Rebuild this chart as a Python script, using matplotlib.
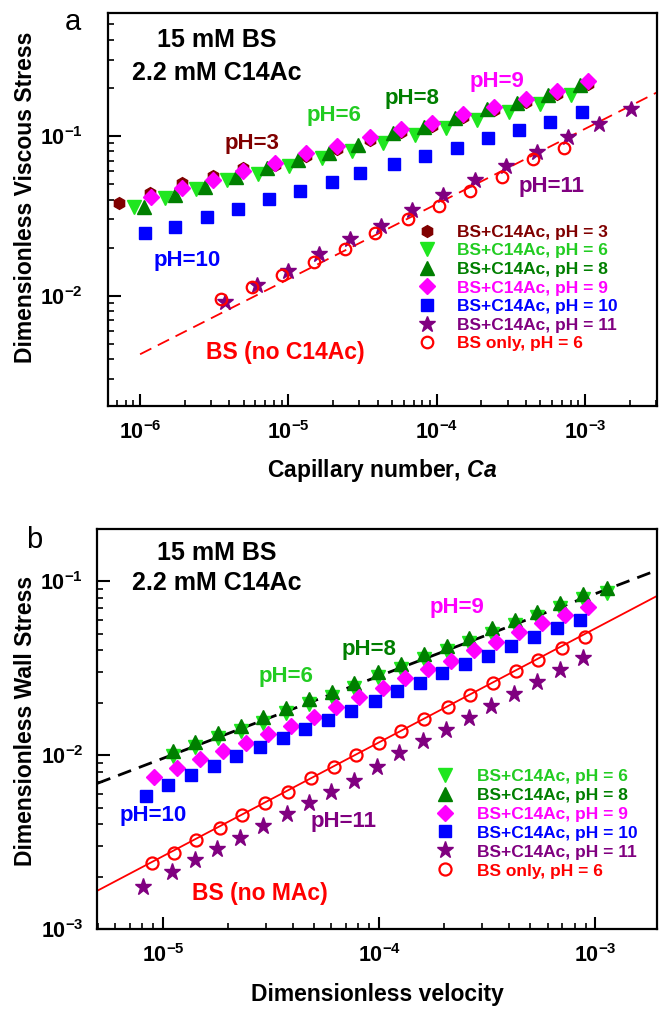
import numpy as np
import matplotlib
matplotlib.use("Agg")
import matplotlib.pyplot as plt
from matplotlib.ticker import LogLocator, FuncFormatter, NullFormatter

plt.rcParams['font.family'] = ['Liberation Sans', 'DejaVu Sans']
plt.rcParams['font.weight'] = 'bold'
plt.rcParams['mathtext.fontset'] = 'custom'
plt.rcParams['mathtext.rm'] = 'Liberation Sans:bold'
plt.rcParams['mathtext.bf'] = 'Liberation Sans:bold'
plt.rcParams['mathtext.it'] = 'Liberation Sans:bold:italic'

# ---------------- Panel a data (Capillary number vs viscous stress) -------------
a_ph3_x = [7.25e-7, 1.17e-6, 1.91e-6, 3.09e-6, 4.97e-6, 8.12e-6, 1.314e-5, 2.135e-5,
           3.55e-5, 5.71e-5, 9.24e-5, 1.509e-4, 2.44e-4, 3.97e-4, 6.49e-4, 1.05e-3]
a_ph3_y = [0.0382, 0.0441, 0.0506, 0.0564, 0.0633, 0.0660, 0.0750, 0.0830,
           0.0950, 0.106, 0.116, 0.131, 0.146, 0.162, 0.184, 0.212]

a_ph6_x = [9.11e-7, 1.47e-6, 2.38e-6, 3.84e-6, 6.27e-6, 1.014e-5, 1.676e-5, 2.70e-5,
           4.36e-5, 7.13e-5, 1.153e-4, 1.875e-4, 3.07e-4, 4.96e-4, 8.02e-4]
a_ph6_y = [0.0358, 0.0407, 0.0464, 0.0530, 0.0578, 0.0649, 0.0725, 0.0809,
           0.0900, 0.1014, 0.1117, 0.126, 0.1407, 0.158, 0.1806]

a_ph8_x = [1.06e-6, 1.72e-6, 2.74e-6, 4.44e-6, 7.21e-6, 1.166e-5, 1.886e-5, 2.96e-5,
           5.09e-5, 8.20e-5, 1.327e-4, 2.17e-4, 3.45e-4, 5.64e-4, 9.23e-4]
a_ph8_y = [0.0361, 0.0427, 0.0481, 0.0551, 0.0628, 0.0707, 0.0786, 0.0878,
           0.1040, 0.1143, 0.129, 0.147, 0.1603, 0.1806, 0.2086]

a_ph9_x = [1.18e-6, 1.91e-6, 3.09e-6, 4.97e-6, 8.12e-6, 1.314e-5, 2.135e-5, 3.55e-5,
           5.71e-5, 9.24e-5, 1.509e-4, 2.44e-4, 3.97e-4, 6.49e-4, 1.05e-3]
a_ph9_y = [0.0417, 0.0470, 0.0530, 0.0606, 0.0681, 0.0779, 0.0866, 0.0990,
           0.110, 0.1211, 0.1367, 0.1526, 0.1697, 0.192, 0.222]

a_ph10_x = [1.08e-6, 1.72e-6, 2.82e-6, 4.60e-6, 7.43e-6, 1.197e-5, 1.958e-5, 3.04e-5,
            5.17e-5, 8.33e-5, 1.36e-4, 2.22e-4, 3.60e-4, 5.79e-4, 9.47e-4]
a_ph10_y = [0.0246, 0.0270, 0.0310, 0.0349, 0.0402, 0.0452, 0.0517, 0.0584,
            0.0665, 0.0750, 0.0845, 0.0967, 0.109, 0.1229, 0.142]

a_ph11_x = [3.74e-6, 6.11e-6, 9.98e-6, 1.616e-5, 2.60e-5, 4.19e-5, 6.78e-5, 1.106e-4,
            1.81e-4, 2.91e-4, 4.71e-4, 7.69e-4, 1.245e-3, 2.03e-3]
a_ph11_y = [0.00917, 0.01167, 0.01434, 0.01825, 0.02255, 0.0273, 0.0344, 0.0427,
            0.0530, 0.0652, 0.0798, 0.0990, 0.1189, 0.147]

a_bs_x = [3.50e-6, 5.66e-6, 9.10e-6, 1.488e-5, 2.41e-5, 3.83e-5, 6.43e-5, 1.035e-4,
          1.674e-4, 2.74e-4, 4.43e-4, 7.19e-4]
a_bs_y = [0.00953, 0.01129, 0.01349, 0.01619, 0.0196, 0.0246, 0.0302, 0.0366,
          0.0452, 0.0556, 0.0715, 0.0845]

a_fit_x = [1.0e-6, 3.04e-3]
a_fit_y = [0.0043, 0.187]

# ---------------- Panel b data (dimensionless velocity vs wall stress) ----------
b_ph8_x = [1.106e-5, 1.406e-5, 1.787e-5, 2.28e-5, 2.90e-5, 3.70e-5, 4.70e-5, 6.05e-5,
           7.66e-5, 9.84e-5, 1.264e-4, 1.608e-4, 2.05e-4, 2.61e-4, 3.33e-4, 4.23e-4,
           5.38e-4, 6.87e-4, 8.75e-4, 1.133e-3]
b_ph8_y = [0.01061, 0.01195, 0.01335, 0.01476, 0.0165, 0.01858, 0.0209, 0.0231,
           0.0261, 0.0299, 0.0334, 0.0379, 0.0425, 0.0473, 0.0535, 0.0597,
           0.0666, 0.0745, 0.0839, 0.0908]

b_ph6_x = [1.106e-5, 1.406e-5, 1.787e-5, 2.28e-5, 2.90e-5, 3.70e-5, 4.70e-5, 6.05e-5,
           7.66e-5, 9.84e-5, 1.264e-4, 1.608e-4, 2.05e-4, 2.61e-4, 3.33e-4, 4.23e-4,
           5.38e-4, 6.87e-4, 8.75e-4, 1.133e-3]
b_ph6_y = [0.0099, 0.0112, 0.0125, 0.0138, 0.0154, 0.0174, 0.0196, 0.0216,
           0.0244, 0.0280, 0.0313, 0.0355, 0.0398, 0.0443, 0.0500, 0.0558,
           0.0623, 0.0697, 0.0785, 0.0850]

b_ph9_x = [9.08e-6, 1.155e-5, 1.473e-5, 1.886e-5, 2.41e-5, 3.06e-5, 3.90e-5, 4.96e-5,
           6.33e-5, 8.08e-5, 1.035e-4, 1.319e-4, 1.684e-4, 2.14e-4, 2.73e-4, 3.47e-4,
           4.43e-4, 5.63e-4, 7.19e-4, 9.21e-4]
b_ph9_y = [0.00746, 0.00841, 0.00950, 0.01061, 0.01179, 0.01323, 0.01471, 0.01663,
           0.01883, 0.0215, 0.0242, 0.0276, 0.0311, 0.0349, 0.0402, 0.0448,
           0.0508, 0.0572, 0.0638, 0.0706]

b_ph10_x = [8.30e-6, 1.055e-5, 1.347e-5, 1.712e-5, 2.18e-5, 2.80e-5, 3.57e-5, 4.55e-5,
            5.79e-5, 7.39e-5, 9.50e-5, 1.207e-4, 1.541e-4, 1.958e-4, 2.50e-4, 3.18e-4,
            4.05e-4, 5.19e-4, 6.62e-4, 8.45e-4]
b_ph10_y = [0.00583, 0.00674, 0.00769, 0.00870, 0.00989, 0.0111, 0.0125, 0.01408,
            0.01592, 0.01793, 0.0205, 0.0234, 0.0261, 0.0295, 0.0332, 0.0371,
            0.0424, 0.0475, 0.0535, 0.0597]

b_ph11_x = [8.06e-6, 1.094e-5, 1.406e-5, 1.776e-5, 2.26e-5, 2.88e-5, 3.73e-5, 4.70e-5,
            6.00e-5, 7.66e-5, 9.73e-5, 1.237e-4, 1.591e-4, 2.03e-4, 2.59e-4, 3.29e-4,
            4.19e-4, 5.34e-4, 6.87e-4, 8.75e-4]
b_ph11_y = [0.001757, 0.00214, 0.00250, 0.00288, 0.00333, 0.00392, 0.00457, 0.00529,
            0.00617, 0.00711, 0.00859, 0.01025, 0.01211, 0.01394, 0.01641, 0.01923,
            0.0224, 0.0264, 0.0308, 0.0363]

b_bs_x = [8.83e-6, 1.122e-5, 1.417e-5, 1.825e-5, 2.32e-5, 2.95e-5, 3.77e-5, 4.80e-5,
          6.18e-5, 7.79e-5, 9.91e-5, 1.264e-4, 1.608e-4, 2.07e-4, 2.63e-4, 3.35e-4,
          4.28e-4, 5.44e-4, 6.98e-4, 8.98e-4]
b_bs_y = [0.00239, 0.00275, 0.00326, 0.00384, 0.00453, 0.00529, 0.00617, 0.00736,
          0.00859, 0.01002, 0.01179, 0.01376, 0.01607, 0.01883, 0.02215, 0.0261,
          0.0304, 0.0352, 0.0414, 0.0479]

b_fit_black_x = [4.95e-6, 1.93e-3]
b_fit_black_y = [0.00689, 0.1156]
b_fit_red_x = [4.95e-6, 1.92e-3]
b_fit_red_y = [0.001665, 0.082]

# ---------------- colours ----------------
C_PH3 = '#800000'
C_PH6 = '#1fe61f'
C_PH6_TXT = '#22cc22'
C_PH8 = '#007f00'
C_PH9 = '#ff00ff'
C_PH10 = '#0000ff'
C_PH11 = '#800080'
C_BS = '#ff0000'

W, H = 661, 1009
fig = plt.figure(figsize=(W / 100, H / 100), dpi=100)


def fx(x):
    return x / W


def fy(y):
    return 1 - y / H


ax1 = fig.add_axes([fx(107.7), fy(406), fx(656.7) - fx(107.7), fy(12.7) - fy(406)])
ax2 = fig.add_axes([fx(97.3), fy(929.3), fx(656.7) - fx(97.3), fy(528.7) - fy(929.3)])


def expfmt(v, pos):
    e = int(round(np.log10(v)))
    return r'$\mathbf{10^{%d}}$' % e


def style(ax, xlim, ylim, ypad):
    ax.set_xscale('log')
    ax.set_yscale('log')
    ax.set_xlim(*xlim)
    ax.set_ylim(*ylim)
    for s in ax.spines.values():
        s.set_linewidth(1.6)
    for axis in (ax.xaxis, ax.yaxis):
        axis.set_major_locator(LogLocator(base=10, numticks=20))
        axis.set_minor_locator(LogLocator(base=10, subs=np.arange(2, 10), numticks=20))
        axis.set_major_formatter(FuncFormatter(expfmt))
        axis.set_minor_formatter(NullFormatter())
    ax.tick_params(which='major', direction='in', length=9, width=1.5,
                   labelsize=15.5, top=False, right=False)
    ax.tick_params(which='minor', direction='in', length=4.5, width=1.2,
                   top=False, right=False)
    ax.tick_params(axis='x', which='major', pad=11)
    ax.tick_params(axis='y', which='major', pad=ypad)


style(ax1, (6.05e-7, 3.04e-3), (2.04e-3, 0.591), 18)
style(ax2, (4.95e-6, 1.92e-3), (1.0e-3, 0.2), 10)

LEG_FS = 12.5

# ---------------- panel a ----------------
ax1.plot(a_fit_x, a_fit_y, color=C_BS, lw=1.3, ls=(0, (7, 4)), zorder=1)
ax1.plot(a_ph3_x, a_ph3_y, ls='none', marker='h', ms=8.5, color=C_PH3, mec=C_PH3,
         label='BS+C14Ac, pH = 3')
ax1.plot(a_ph6_x, a_ph6_y, ls='none', marker='v', ms=9.5, color=C_PH6, mec=C_PH6,
         label='BS+C14Ac, pH = 6')
ax1.plot(a_ph8_x, a_ph8_y, ls='none', marker='^', ms=9.5, color=C_PH8, mec=C_PH8,
         label='BS+C14Ac, pH = 8')
ax1.plot(a_ph9_x, a_ph9_y, ls='none', marker='D', ms=8, color=C_PH9, mec=C_PH9,
         label='BS+C14Ac, pH = 9')
ax1.plot(a_ph10_x, a_ph10_y, ls='none', marker='s', ms=8.4, color=C_PH10, mec=C_PH10,
         label='BS+C14Ac, pH = 10')
ax1.plot(a_ph11_x, a_ph11_y, ls='none', marker='*', ms=12, color=C_PH11, mec=C_PH11,
         label='BS+C14Ac, pH = 11')
ax1.plot(a_bs_x, a_bs_y, ls='none', marker='o', ms=8.3, mfc='none', mec=C_BS, mew=1.6,
         label='BS only, pH = 6')

leg1 = ax1.legend(loc='upper left', bbox_to_anchor=(0.566, 0.4615), frameon=False,
                  fontsize=LEG_FS, handlelength=1.0, handletextpad=1.2,
                  labelspacing=0.2, borderpad=0, borderaxespad=0, numpoints=1)
for t, c in zip(leg1.get_texts(), [C_PH3, C_PH6_TXT, C_PH8, C_PH9, C_PH10, C_PH11, C_BS]):
    t.set_color(c)

ax1.set_ylabel('Dimensionless Viscous Stress', fontsize=16.5, fontweight='bold', va='center')
ax1.yaxis.set_label_coords(-0.150, 0.53)
ax1.set_xlabel(r'Capillary number, $\mathit{Ca}$', fontsize=16.5, fontweight='bold', va='center')
ax1.xaxis.set_label_coords(0.5, -0.163)

# ---------------- panel b ----------------
ax2.plot(b_fit_black_x, b_fit_black_y, color='black', lw=2.0, ls=(0, (5, 3)), zorder=1)
ax2.plot(b_fit_red_x, b_fit_red_y, color=C_BS, lw=1.3, ls='-', zorder=1)
ax2.plot(b_ph6_x, b_ph6_y, ls='none', marker='v', ms=9.5, color=C_PH6, mec=C_PH6,
         label='BS+C14Ac, pH = 6')
ax2.plot(b_ph8_x, b_ph8_y, ls='none', marker='^', ms=9.5, color=C_PH8, mec=C_PH8,
         label='BS+C14Ac, pH = 8')
ax2.plot(b_ph9_x, b_ph9_y, ls='none', marker='D', ms=8.2, color=C_PH9, mec=C_PH9,
         label='BS+C14Ac, pH = 9')
ax2.plot(b_ph10_x, b_ph10_y, ls='none', marker='s', ms=8.7, color=C_PH10, mec=C_PH10,
         label='BS+C14Ac, pH = 10')
ax2.plot(b_ph11_x, b_ph11_y, ls='none', marker='*', ms=12.5, color=C_PH11, mec=C_PH11,
         label='BS+C14Ac, pH = 11')
ax2.plot(b_bs_x, b_bs_y, ls='none', marker='o', ms=8.7, mfc='none', mec=C_BS, mew=1.6,
         label='BS only, pH = 6')

leg2 = ax2.legend(loc='upper left', bbox_to_anchor=(0.6066, 0.4014), frameon=False,
                  fontsize=LEG_FS, handlelength=1.0, handletextpad=1.35,
                  labelspacing=0.22, borderpad=0, borderaxespad=0, numpoints=1)
for t, c in zip(leg2.get_texts(), [C_PH6_TXT, C_PH8, C_PH9, C_PH10, C_PH11, C_BS]):
    t.set_color(c)

ax2.set_ylabel('Dimensionless Wall Stress', fontsize=16.5, fontweight='bold', va='center')
ax2.yaxis.set_label_coords(-0.128, 0.52)
ax2.set_xlabel('Dimensionless velocity', fontsize=16.5, fontweight='bold', va='center')
ax2.xaxis.set_label_coords(0.5, -0.164)

# ---------------- annotations ----------------
def ftext(x, y, s, color='black', size=16, weight='bold', ha='center'):
    fig.text(fx(x), fy(y), s, color=color, fontsize=size, fontweight=weight,
             ha=ha, va='center')


ftext(216.7, 40, '15 mM BS', size=18)
ftext(216.7, 73.3, '2.2 mM C14Ac', size=18)
ftext(251.7, 143.3, 'pH=3', C_PH3)
ftext(334, 115, 'pH=6', C_PH6_TXT)
ftext(411.7, 98.3, 'pH=8', C_PH8)
ftext(496.7, 81, 'pH=9', C_PH9)
ftext(551.7, 186.7, 'pH=11', C_PH11)
ftext(187.3, 260.7, 'pH=10', C_PH10)
ftext(285, 352, 'BS (no C14Ac)', C_BS, size=16.5)
ftext(73, 22, 'a', size=21, weight='normal')

ftext(216.7, 553.3, '15 mM BS', size=18)
ftext(216.7, 583.3, '2.2 mM C14Ac', size=18)
ftext(286, 676.7, 'pH=6', C_PH6_TXT)
ftext(369, 650, 'pH=8', C_PH8)
ftext(456.7, 607.3, 'pH=9', C_PH9)
ftext(153.3, 815, 'pH=10', C_PH10)
ftext(344, 822, 'pH=11', C_PH11)
ftext(260, 893.3, 'BS (no MAc)', C_BS, size=16.5)
ftext(34, 540, 'b', size=21, weight='normal')

fig.savefig('out.png', dpi=100)
